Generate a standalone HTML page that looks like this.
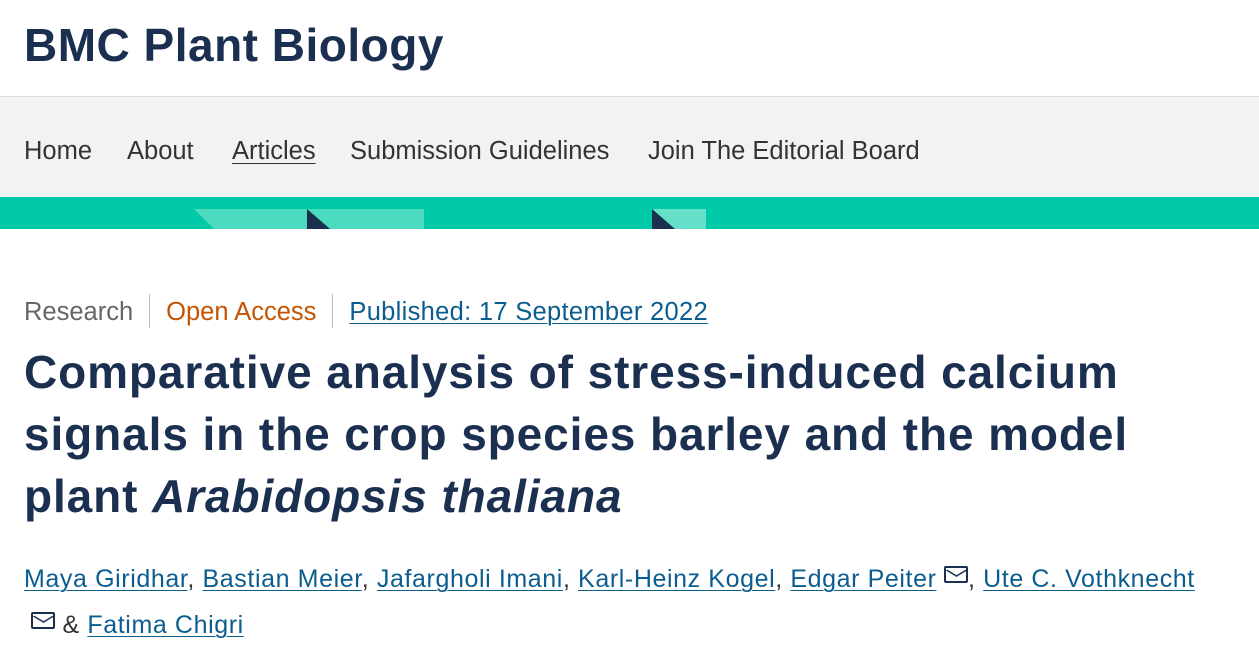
<!DOCTYPE html>
<html><head><meta charset="utf-8"><style>
body{margin:0;width:1259px;height:661px;background:#fff;position:relative;overflow:hidden;font-family:"Liberation Sans",sans-serif}
.a{position:absolute;white-space:nowrap}
.h{left:24px;top:18px;font-size:46px;font-weight:bold;color:#1b3050;letter-spacing:0.5px}
.nav{position:absolute;left:0;top:96px;width:1259px;height:101px;background:#f2f2f2;border-top:1px solid #dcdcdc}
.nav span{position:absolute;top:40px;font-size:25.5px;color:#333}
.t{left:24px;font-size:46px;font-weight:bold;color:#1b3050;letter-spacing:0.9px}
.au{font-size:25px;color:#333;letter-spacing:0.6px}
.au u{color:#0c5d8f;text-decoration-thickness:1px;text-underline-offset:3px}
.env{display:inline-block;width:24px;height:17px;border:2px solid #1b3050;border-radius:2px;position:relative;vertical-align:4px;box-sizing:border-box}
.env:after{content:"";position:absolute;left:3px;top:-5px;width:13px;height:13px;border-right:2px solid #1b3050;border-bottom:2px solid #1b3050;transform:scaleY(0.6) rotate(45deg)}
</style></head><body>
<div class="a h">BMC Plant Biology</div>
<div class="nav">
<span style="left:24px">Home</span>
<span style="left:127px">About</span>
<span style="left:232px;text-decoration:underline;text-underline-offset:4px;text-decoration-thickness:1px">Articles</span>
<span style="left:350px">Submission Guidelines</span>
<span style="left:648px">Join The Editorial Board</span>
</div>
<svg class="a" style="left:0;top:197px" width="1259" height="32">
<rect width="1259" height="32" fill="#00c9a7"/>
<polygon points="194,12 307,12 307,32 214,32" fill="#4ddbc0"/>
<polygon points="307,12 424,12 424,32 330,32" fill="#4ddbc0"/>
<polygon points="307,12 330,32 307,32" fill="#1b2f4e"/>
<polygon points="652,12 706,12 706,32 675,32" fill="#66e0c8"/>
<polygon points="652,12 675,32 652,32" fill="#1b2f4e"/>
</svg>
<div class="a" style="left:24px;top:294px;font-size:25.5px">
<span style="color:#666">Research</span><span style="display:inline-block;width:1px;height:34px;background:#bbb;margin:0 16px;vertical-align:-8px"></span><span style="color:#c65301">Open Access</span><span style="display:inline-block;width:1px;height:34px;background:#bbb;margin:0 16px;vertical-align:-8px"></span><span style="color:#0c5d8f;text-decoration:underline;text-underline-offset:3px;text-decoration-thickness:1px;letter-spacing:0.3px">Published: 17 September 2022</span>
</div>
<div class="a t" style="top:345px">Comparative analysis of stress-induced calcium</div>
<div class="a t" style="top:407px">signals in the crop species barley and the model</div>
<div class="a t" style="top:469px">plant <i>Arabidopsis thaliana</i></div>
<div class="a au" style="left:24px;top:565px"><u>Maya Giridhar</u>, <u>Bastian Meier</u>, <u>Jafargholi Imani</u>, <u>Karl-Heinz Kogel</u>, <u>Edgar Peiter</u> <span class="env"></span>, <u>Ute C. Vothknecht</u></div>
<div class="a au" style="left:31px;top:611px"><span class="env"></span> &amp; <u>Fatima Chigri</u></div>
</body></html>
